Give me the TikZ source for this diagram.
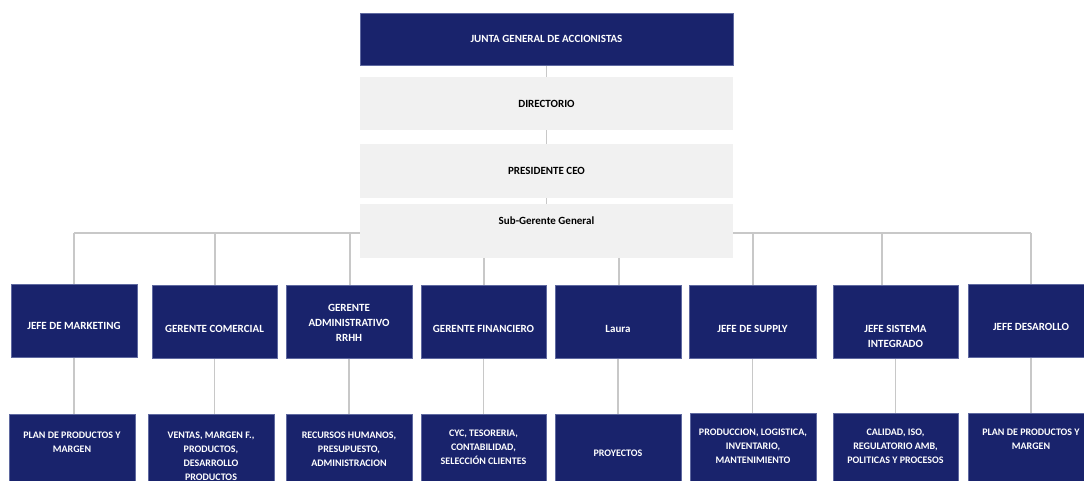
\documentclass[tikz,border=0pt]{standalone}
\usepackage{fontspec}
\setmainfont{Carlito}
\usetikzlibrary{positioning}
\definecolor{navy}{RGB}{25,35,108}
\definecolor{navyedge}{RGB}{95,105,160}
\definecolor{greyfill}{RGB}{241,241,241}
\definecolor{linegray}{RGB}{200,200,200}
\pgfdeclarelayer{bgzero}
\pgfdeclarelayer{lines}
\pgfsetlayers{bgzero,lines,main}
\begin{document}
\begin{tikzpicture}[x=1pt,y=-1pt,
  navybox/.style={fill=navy, draw=navyedge, line width=0.7pt, inner sep=0pt, minimum height=73pt},
  lowbox/.style={fill=navy, draw=navyedge, line width=0.7pt, inner sep=0pt, minimum height=80pt},
  greybox/.style={fill=greyfill, draw=none, inner sep=0pt, minimum width=373pt, text=black, font=\bfseries\fontsize{11}{15}\selectfont},
  wlab/.style={text=white, font=\bfseries\fontsize{11}{15}\selectfont, align=center, inner sep=0pt},
  blab/.style={text=black, font=\bfseries\fontsize{11}{15}\selectfont, align=center, inner sep=0pt},
  slab/.style={text=white, font=\bfseries\fontsize{10}{14}\selectfont, align=center, inner sep=0pt},
  conn/.style={draw=linegray, line width=1.2pt}]
\begin{pgfonlayer}{bgzero}
  \fill[white] (0,0) rectangle (1084,481);
\end{pgfonlayer}
\useasboundingbox (0,0) rectangle (1084,481);

% top column
\node[navybox, minimum width=373pt, minimum height=52pt, font=\bfseries\fontsize{11}{15}\selectfont, text=white] (junta) at (546.5,39) {JUNTA GENERAL DE ACCIONISTAS};
\node[greybox, minimum height=53pt] (dir) at (546.5,103.5) {DIRECTORIO};
\node[greybox, minimum height=54pt] (pres) at (546.5,171) {PRESIDENTE CEO};
\node[greybox, minimum height=54pt, label={[blab,yshift=10pt]center:Sub-Gerente General}] (sub) at (546.5,231) {};

% bus coordinates
\coordinate (b1) at (74,233);
\coordinate (b2) at (215,233);
\coordinate (b3) at (350,233);
\coordinate (b4) at (484,233);
\coordinate (b5) at (619,233);
\coordinate (b6) at (753,233);
\coordinate (b7) at (882,233);
\coordinate (b8) at (1031,233);

% middle row
\node[navybox, minimum width=126pt, label={[wlab,yshift=-5.5pt]center:JEFE DE MARKETING}] (m1) at (74,320.5) {};
\node[navybox, minimum width=125pt, label={[wlab,yshift=-7.5pt]center:GERENTE COMERCIAL}] (m2) at (214.5,321.5) {};
\node[navybox, minimum width=126pt, label={[wlab,yshift=-1.5pt]center:GERENTE\\ADMINISTRATIVO\\RRHH}] (m3) at (349,321.5) {};
\node[navybox, minimum width=125pt, label={[wlab,yshift=-7.5pt]center:GERENTE FINANCIERO}] (m4) at (483.5,321.5) {};
\node[navybox, minimum width=126pt, label={[wlab,yshift=-7.5pt]center:Laura}] (m5) at (618,321.5) {};
\node[navybox, minimum width=127pt, label={[wlab,yshift=-7.5pt]center:JEFE DE SUPPLY}] (m6) at (752.5,321.5) {};
\node[navybox, minimum width=125pt, label={[wlab,yshift=-15pt]center:JEFE SISTEMA\\INTEGRADO}] (m7) at (895.5,321.5) {};
\node[navybox, minimum width=126pt, label={[wlab,yshift=-6.5pt]center:JEFE DESAROLLO}] (m8) at (1031,320.5) {};

% bottom row
\node[lowbox, minimum width=126pt, label={[slab,yshift=12pt]center:PLAN DE PRODUCTOS Y\\MARGEN}] (l1) at (72,454) {};
\node[lowbox, minimum width=126pt, label={[slab,yshift=-2pt]center:VENTAS, MARGEN F.,\\PRODUCTOS,\\DESARROLLO\\PRODUCTOS}] (l2) at (211,454) {};
\node[lowbox, minimum width=126pt, label={[slab,yshift=5pt]center:RECURSOS HUMANOS,\\PRESUPUESTO,\\ADMINISTRACION}] (l3) at (349,454) {};
\node[lowbox, minimum width=125pt, label={[slab,yshift=6.5pt]center:CYC, TESORERIA,\\CONTABILIDAD,\\SELECCIÓN CLIENTES}] (l4) at (483.5,454) {};
\node[lowbox, minimum width=126pt, label={[slab,yshift=1pt]center:PROYECTOS}] (l5) at (618,454) {};
\node[lowbox, minimum width=126pt, label={[slab,yshift=7pt]center:PRODUCCION, LOGISTICA,\\INVENTARIO,\\MANTENIMIENTO}] (l6) at (753,453) {};
\node[lowbox, minimum width=125pt, label={[slab,yshift=7pt]center:CALIDAD, ISO,\\REGULATORIO AMB,\\POLITICAS Y PROCESOS}] (l7) at (895.5,453) {};
\node[lowbox, minimum width=126pt, label={[slab,yshift=14pt]center:PLAN DE PRODUCTOS Y\\MARGEN}] (l8) at (1031,453) {};

% connectors
\begin{pgfonlayer}{lines}
  \draw[conn] (junta.south) -- (dir.north);
  \draw[conn] (dir.south) -- (pres.north);
  \draw[conn] (pres.south) -- (sub.north);
  \draw[conn] (b1) -- (b8);
  \foreach \i in {1,...,8} {
    \draw[conn] (b\i) -- (b\i |- m\i.north);
  }
  \draw[conn] (m1.south) -- (m1.south |- l1.north);
  \draw[conn] (m2.south) -- (m2.south |- l2.north);
  \draw[conn] (m3.south) -- (m3.south |- l3.north);
  \draw[conn] (m4.south) -- (m4.south |- l4.north);
  \draw[conn] (m5.south) -- (m5.south |- l5.north);
  \draw[conn] (m6.south) -- (m6.south |- l6.north);
  \draw[conn] (l7.north) -- (l7.north |- m7.south);
  \draw[conn] (m8.south) -- (m8.south |- l8.north);
\end{pgfonlayer}
\end{tikzpicture}
\end{document}
